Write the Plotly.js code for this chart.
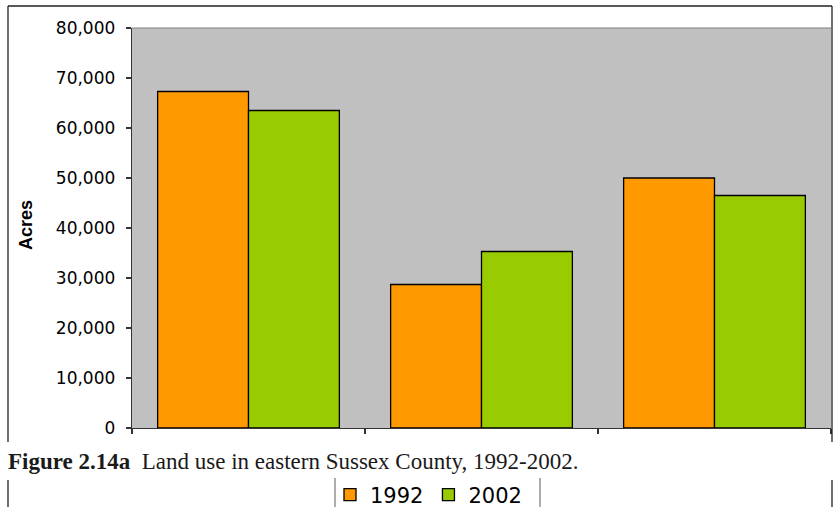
<!DOCTYPE html>
<html>
<head>
<meta charset="utf-8">
<script src="https://cdn.plot.ly/plotly-3.0.1.min.js"></script>
<style>
  html, body { margin: 0; padding: 0; background: #ffffff; }
  #chart { width: 833px; height: 507px; }
</style>
</head>
<body>
<div id="chart"></div>
<script>
// ---- data ----
const categories = ["Group 1", "Group 2", "Group 3"];
const series1992 = [67300, 28700, 50000];
const series2002 = [63500, 35300, 46500];
const seriesNames = ["1992", "2002"];
const yTickValues = [0, 10000, 20000, 30000, 40000, 50000, 60000, 70000, 80000];
const captionBold = "Figure 2.14a";
const captionText = "Land use in eastern Sussex County, 1992-2002.";
const yTitle = "Acres";

// ---- pixel-to-paper helpers (plot area: x 132..831, y 28..428) ----
const L = 132, R = 2, T = 28, B = 79, W = 833, H = 507;
const PW = W - L - R, PH = H - T - B;
const px = x => (x - L) / PW;
const py = y => (T + PH - y) / PH;

const traces = [
  {
    type: "bar", name: seriesNames[0], x: categories, y: series1992,
    marker: { color: "#FF9900", line: { color: "#000000", width: 1.3 } },
    hoverinfo: "skip"
  },
  {
    type: "bar", name: seriesNames[1], x: categories, y: series2002,
    marker: { color: "#99CC00", line: { color: "#000000", width: 1.3 } },
    hoverinfo: "skip"
  }
];

const frameColor = "#222222";
const shapes = [
  // plot-area top border
  { type: "line", xref: "paper", yref: "paper", x0: 0, x1: 1, y0: 1, y1: 1, line: { color: "#808080", width: 1 } },
  // outer frame
  { type: "line", xref: "paper", yref: "paper", x0: px(8), x1: px(832), y0: py(6), y1: py(6), line: { color: frameColor, width: 1.3 } },
  { type: "line", xref: "paper", yref: "paper", x0: px(8), x1: px(8), y0: py(6), y1: py(442), line: { color: frameColor, width: 1.3 } },
  { type: "line", xref: "paper", yref: "paper", x0: px(832), x1: px(832), y0: py(6), y1: py(442), line: { color: frameColor, width: 1.3 } },
  { type: "line", xref: "paper", yref: "paper", x0: px(8), x1: px(8), y0: py(480), y1: py(512), line: { color: frameColor, width: 1.3 } },
  { type: "line", xref: "paper", yref: "paper", x0: px(832), x1: px(832), y0: py(480), y1: py(512), line: { color: frameColor, width: 1.3 } },
  // legend box sides
  { type: "line", xref: "paper", yref: "paper", x0: px(335), x1: px(335), y0: py(478), y1: py(512), line: { color: "#808080", width: 1.3 } },
  { type: "line", xref: "paper", yref: "paper", x0: px(540), x1: px(540), y0: py(478), y1: py(512), line: { color: "#808080", width: 1.3 } }
];

const layout = {
  width: W, height: H,
  margin: { l: L, r: R, t: T, b: B, pad: 0, autoexpand: false },
  paper_bgcolor: "#ffffff",
  plot_bgcolor: "#C0C0C0",
  barmode: "group",
  bargap: 0.22,
  bargroupgap: 0,
  showlegend: true,
  legend: {
    orientation: "h",
    x: px(330), xanchor: "left",
    y: py(495), yanchor: "middle",
    font: { family: "DejaVu Sans, Arial, sans-serif", size: 21, color: "#000000" },
    bgcolor: "rgba(0,0,0,0)",
    itemclick: false, itemdoubleclick: false
  },
  xaxis: {
    type: "category",
    showticklabels: false,
    ticks: "outside", tickson: "boundaries", ticklen: 5, tickwidth: 1.3, tickcolor: "#333333",
    showline: true, linecolor: "#333333", linewidth: 1.3,
    showgrid: false, zeroline: false, fixedrange: true
  },
  yaxis: {
    range: [0, 80000],
    tickvals: yTickValues,
    tickformat: ",d",
    ticks: "outside", ticklen: 5, tickwidth: 1.3, tickcolor: "#333333",
    ticklabelstandoff: 7,
    tickfont: { family: "DejaVu Sans, Arial, sans-serif", size: 17, color: "#000000" },
    showline: true, linecolor: "#333333", linewidth: 1.3,
    showgrid: false, zeroline: false, fixedrange: true
  },
  shapes: shapes,
  annotations: [
    {
      xref: "paper", yref: "paper", x: px(26), y: py(225),
      text: "<b>" + yTitle + "</b>", textangle: -90, showarrow: false,
      xanchor: "center", yanchor: "middle",
      font: { family: "Liberation Sans, Arial, sans-serif", size: 18, color: "#000000" }
    },
    {
      xref: "paper", yref: "paper", x: px(6), y: py(461),
      text: "<b>" + captionBold + "</b>&nbsp;&nbsp;" + captionText, showarrow: false,
      xanchor: "left", yanchor: "middle",
      font: { family: "Liberation Serif, Times New Roman, serif", size: 23, color: "#1a1a1a" }
    }
  ]
};

Plotly.newPlot("chart", traces, layout, { staticPlot: true, displayModeBar: false });
</script>
</body>
</html>
